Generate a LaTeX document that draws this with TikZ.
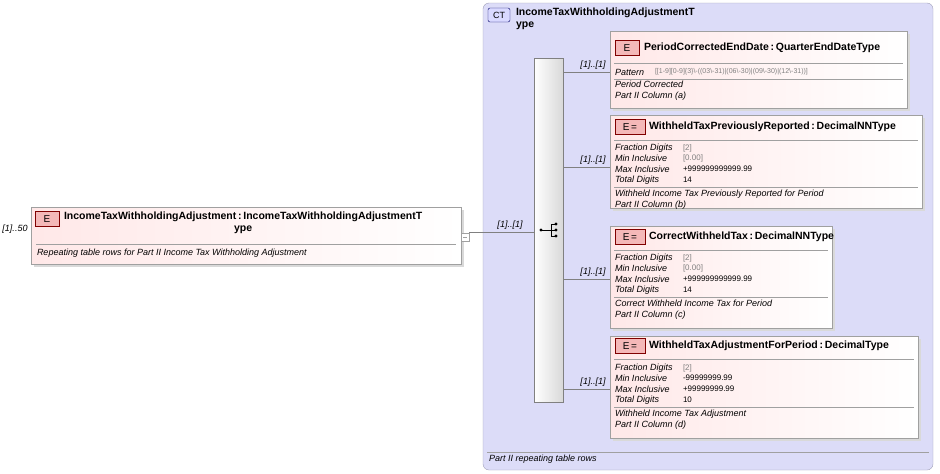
\documentclass[tikz,border=0pt]{standalone}
\usepackage{fontspec}
\setmainfont{Liberation Sans}
\usetikzlibrary{positioning}
\definecolor{ctfill}{HTML}{DCDCF8}
\definecolor{ctline}{HTML}{A0A0B8}
\definecolor{elfill}{HTML}{FFE8E8}
\definecolor{elline}{HTML}{A0A0A0}
\definecolor{badge}{HTML}{F4B8B8}
\definecolor{facetval}{HTML}{808080}
\newcommand{\facet}[4]{%
\node[fct,anchor=west]at(615,#1)(#4){#2};
\node[fct,font=\fontsize{8}{9}\selectfont,anchor=west]at(683,#1){#3};}
\begin{document}
\begin{tikzpicture}[x=1pt,y=-1pt,
every node/.style={inner sep=0pt,outer sep=0pt},
elem/.style={draw=elline,left color=elfill!60!red!20,right color=white,line width=0.6pt},
bdg/.style={draw=red!50!black,fill=badge,font=\fontsize{10}{11}\selectfont,minimum width=24pt,minimum height=15pt},
ttl/.style={font=\bfseries\fontsize{10.5}{12}\selectfont,anchor=west,align=center},
fct/.style={font=\itshape\fontsize{9}{10}\selectfont},
doc/.style={font=\itshape\fontsize{9}{10.5}\selectfont,anchor=north west,align=left},
card/.style={font=\itshape\fontsize{9}{10}\selectfont},
sep/.style={elline,line width=0.6pt},
wire/.style={gray,line width=0.6pt}
]
\useasboundingbox(0,0)rectangle(940,474);
% complex type
\draw[ctline,fill=ctfill,rounded corners=6pt](483,3)rectangle(933,470);
\node[draw=blue!40!black,fill=blue!15,rounded corners=2pt,font=\fontsize{9}{10}\selectfont,minimum width=22pt,minimum height=14pt]at(499,15)(ct){CT};
\node[ttl,anchor=north west,align=left,font=\bfseries\fontsize{10.5}{11.5}\selectfont]at(516,8)(ctname){IncomeTaxWithholdingAdjustmentT\\ype};
\draw[sep](487,452)--(929,452);
\node[fct,anchor=west]at(489,459)(ctdoc){Part II repeating table rows};
% parent element
\fill[black!15](34,210)rectangle(464,267);
\draw[elem](31,207)rectangle(461,264);
\node[bdg]at(47,219)(pe){E};
\node[ttl,anchor=north west]at(64,212)(pname){IncomeTaxWithholdingAdjustment\,:\,IncomeTaxWithholdingAdjustmentT\\ype};
\draw[sep](36,244)--(456,244);
\node[fct,anchor=west]at(37,253)(pdoc){Repeating table rows for Part II Income Tax Withholding Adjustment};
\node[card]at(15,229)(pcard){[1]..50};
\draw[elline,fill=white](461,233)rectangle(469,241);
\draw[elline](463,237)--(467,237);
% sequence
\draw[wire](469,232)--(535,232);
\node[card]at(510,225)(scard){[1]..[1]};
\draw[gray,left color=white,right color=black!15](534,58)rectangle(563,402);
\node(seq)at(548,230){};
\draw[black,line width=0.8pt](542,230)--(551,230)(551,224)--(551,236)(551,224)--(555,224)(551,230)--(555,230)(551,236)--(555,236);
\foreach \yy in {224,230,236}\fill(556,\yy)circle(1.6);
\fill(541,230)circle(1.6);
% children
\foreach \yy in {72,167,279,389}{
\draw[wire](563,\yy)--(610,\yy);
\node[card]at(593,\yy-7){[1]..[1]};}
% child 1
\fill[black!15](613,34)rectangle(910,111);
\draw[elem](610,31)rectangle(907,108);
\node[bdg]at(627,48)(e1){E};
\node[ttl]at(644,48)(n1){PeriodCorrectedEndDate\,:\,QuarterEndDateType};
\draw[sep](614,63)--(903,63);
\node[fct,anchor=west]at(615,72)(f1){Pattern};
\node[font=\fontsize{7}{8}\selectfont,text=facetval,anchor=west]at(655,72){[[1-9][0-9]\{3\}\textbackslash-((03\textbackslash-31)|(06\textbackslash-30)|(09\textbackslash-30)|(12\textbackslash-31))]};
\draw[sep](614,79)--(903,79);
\node[doc]at(615,81)(d1){Period Corrected\\Part II Column (a)};
% child 2
\fill[black!15](613,118)rectangle(925,211);
\draw[elem](610,115)rectangle(922,208);
\node[bdg,minimum width=30pt]at(630,127)(e2){E\,=};
\node[ttl]at(649,127)(n2){WithheldTaxPreviouslyReported\,:\,DecimalNNType};
\draw[sep](614,140)--(918,140);
\facet{148}{Fraction Digits}{\textcolor{facetval}{[2]}}{a2}
\facet{158}{Min Inclusive}{\textcolor{facetval}{[0.00]}}{b2}
\facet{169}{Max Inclusive}{+999999999999.99}{c2}
\facet{180}{Total Digits}{14}{g2}
\draw[sep](614,187)--(918,187);
\node[doc]at(615,190)(d2){Withheld Income Tax Previously Reported for Period\\Part II Column (b)};
% child 3
\fill[black!15](613,229)rectangle(835,331);
\draw[elem](610,226)rectangle(832,328);
\node[bdg,minimum width=30pt]at(630,237)(e3){E\,=};
\node[ttl]at(649,237)(n3){CorrectWithheldTax\,:\,DecimalNNType};
\draw[sep](614,250)--(828,250);
\facet{258}{Fraction Digits}{\textcolor{facetval}{[2]}}{a3}
\facet{268}{Min Inclusive}{\textcolor{facetval}{[0.00]}}{b3}
\facet{279}{Max Inclusive}{+999999999999.99}{c3}
\facet{290}{Total Digits}{14}{g3}
\draw[sep](614,297)--(828,297);
\node[doc]at(615,300)(d3){Correct Withheld Income Tax for Period\\Part II Column (c)};
% child 4
\fill[black!15](613,339)rectangle(921,441);
\draw[elem](610,336)rectangle(918,438);
\node[bdg,minimum width=30pt]at(630,346)(e4){E\,=};
\node[ttl]at(649,346)(n4){WithheldTaxAdjustmentForPeriod\,:\,DecimalType};
\draw[sep](614,359)--(914,359);
\facet{368}{Fraction Digits}{\textcolor{facetval}{[2]}}{a4}
\facet{378}{Min Inclusive}{-99999999.99}{b4}
\facet{389}{Max Inclusive}{+99999999.99}{c4}
\facet{400}{Total Digits}{10}{g4}
\draw[sep](614,407)--(914,407);
\node[doc]at(615,410)(d4){Withheld Income Tax Adjustment\\Part II Column (d)};
\end{tikzpicture}
\end{document}
